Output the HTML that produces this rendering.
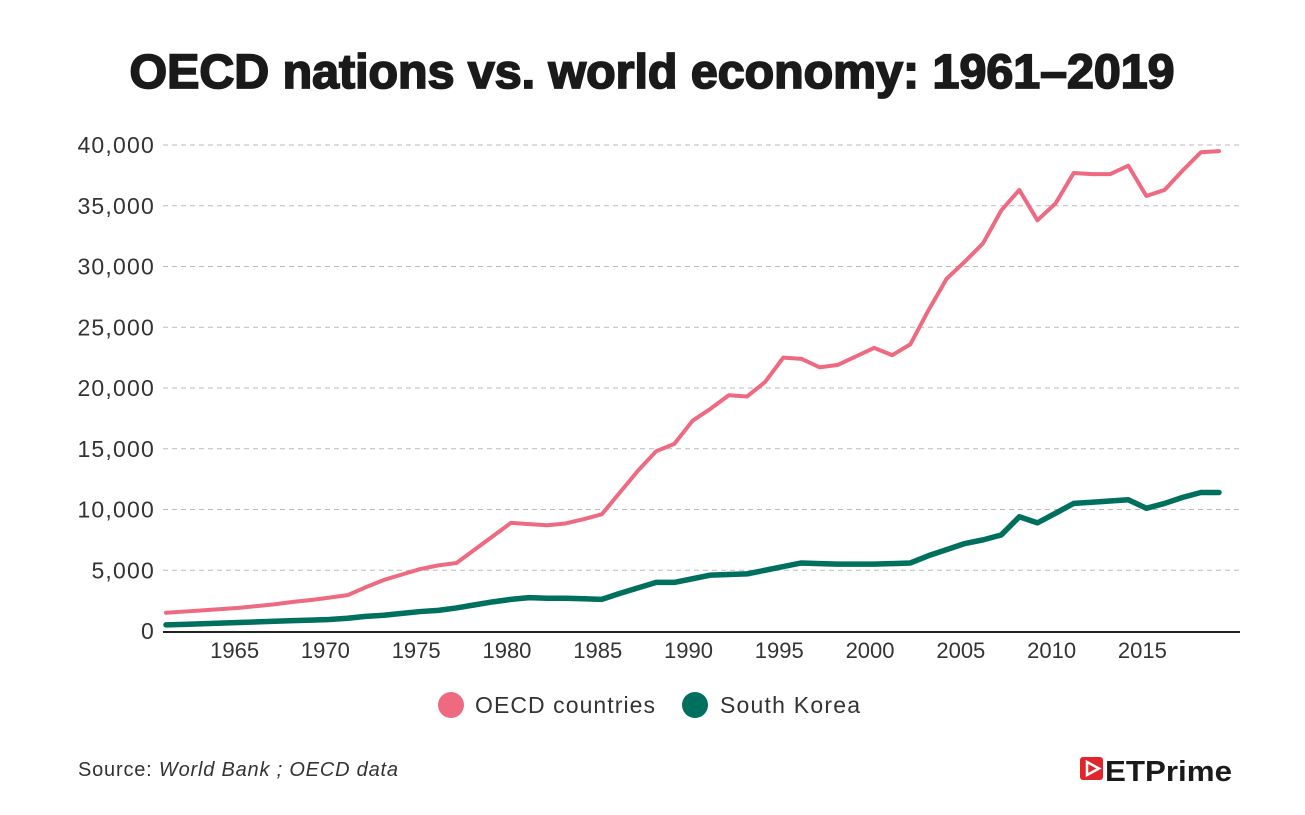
<!DOCTYPE html>
<html><head><meta charset="utf-8"><style>
body{margin:0;background:#fff;width:1305px;height:810px;overflow:hidden;font-family:"Liberation Sans",sans-serif;}
</style></head><body>
<svg width="1305" height="810">
<text x="652" y="88" text-anchor="middle" font-size="48" font-weight="900" fill="#1a1a1a" stroke="#1a1a1a" stroke-width="1.8" textLength="1045" lengthAdjust="spacingAndGlyphs">OECD nations vs. world economy: 1961–2019</text>
<g id="grid"></g><g id="yt"></g><g id="xt"></g><g id="lines"></g>
<g>
<circle cx="451" cy="705" r="13" fill="#ee6a80"/>
<text x="475" y="713" font-size="23" fill="#333" textLength="180">OECD countries</text>
<circle cx="695" cy="705" r="13" fill="#00705e"/>
<text x="720" y="713" font-size="23" fill="#333" textLength="140">South Korea</text>
</g>
<text x="78" y="776" font-size="20" fill="#333" textLength="320">Source: <tspan font-style="italic">World Bank ; OECD data</tspan></text>
<g>
<rect x="1080" y="757" width="23" height="23" rx="3" fill="#e0262b"/>
<path d="M1087 762 L1099 768.5 L1087 775 Z" fill="none" stroke="#fff" stroke-width="2.5"/>
<text x="1105" y="781" font-size="29" font-weight="bold" fill="#1a1a1a" textLength="127" lengthAdjust="spacingAndGlyphs">ETPrime</text>
</g>
</svg>
<script>
const years=[];for(let y=1961;y<=2019;y++)years.push(y);
const oecd=[1500,1600,1700,1800,1900,2050,2200,2400,2550,2750,2950,3600,4200,4650,5100,5400,5600,6700,7800,8900,8800,8700,8850,9200,9600,11400,13200,14800,15400,17300,18300,19400,19300,20500,22500,22400,21700,21900,22600,23300,22700,23600,26400,29000,30400,31900,34600,36300,33800,35200,37700,37600,37600,38300,35800,36300,37900,39400,39500];
const korea=[500,550,600,650,700,750,800,850,900,950,1050,1200,1300,1450,1600,1700,1900,2150,2400,2600,2750,2700,2700,2650,2600,3100,3550,4000,4000,4300,4600,4650,4700,5000,5300,5600,5550,5500,5500,5500,5550,5600,6200,6700,7200,7500,7900,9400,8900,9700,10500,10600,10700,10800,10100,10500,11000,11400,11400];
const yTicks=[0,5000,10000,15000,20000,25000,30000,35000,40000];
const xTicks=[1965,1970,1975,1980,1985,1990,1995,2000,2005,2010,2015];
const NS='http://www.w3.org/2000/svg';
const X=y=>166+(y-1961)*(1219-166)/58;
const Y=v=>631-v*(631-145)/40000;
function mk(t,a,p){const e=document.createElementNS(NS,t);for(const k in a)e.setAttribute(k,a[k]);p.appendChild(e);return e;}
const g=document.getElementById('grid'),yt=document.getElementById('yt'),xt=document.getElementById('xt'),ln=document.getElementById('lines');
yTicks.forEach(v=>{
 if(v>0){const l=mk('line',{x1:163,x2:1240,y1:Y(v),y2:Y(v),stroke:'#bbb','stroke-dasharray':'5,4','stroke-width':1},g);
 
 }
 const t=mk('text',{x:155,y:Y(v)+8,'text-anchor':'end','font-size':23,fill:'#333','letter-spacing':'1.2'},yt);
 t.textContent=v.toLocaleString('en-US');
 
 
});
const ax=mk('line',{x1:163,x2:1240,y1:632,y2:632,stroke:'#222','stroke-width':2},g);


xTicks.forEach(y=>{const t=mk('text',{x:X(y)-4,y:658,'text-anchor':'middle','font-size':22,fill:'#333'},xt);
 t.textContent=y;
 
 });
function line(d,c,w,n){const p=mk('polyline',{points:d.map((v,i)=>X(years[i])+','+Y(v)).join(' '),fill:'none',stroke:c,'stroke-width':w,'stroke-linejoin':'round','stroke-linecap':'round'},ln);
 
 }
line(oecd,'#ee6a80',4,'oecd-line');
line(korea,'#00705e',5.5,'south-korea-line');
</script>
</body></html>
